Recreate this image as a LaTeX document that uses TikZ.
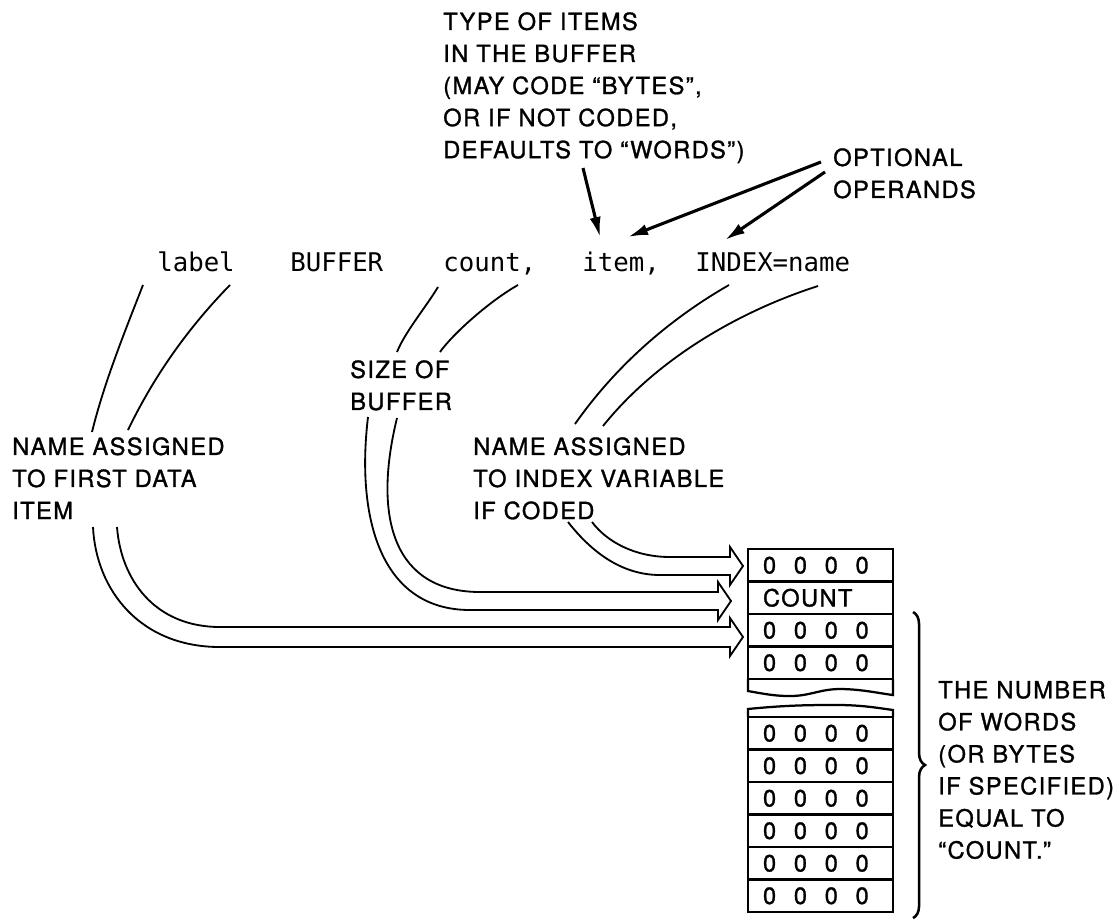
\documentclass[tikz,border=0pt]{standalone}
\usepackage{fontspec}
\usetikzlibrary{arrows.meta, positioning, decorations.pathreplacing, calc}
\newfontfamily\labfont[LetterSpace=6, FakeBold=1.2]{TeX Gyre Heros}
\newfontfamily\stmtfont{DejaVu Sans Mono}
\newcommand{\zeros}{0\kern12.6pt 0\kern12.6pt 0\kern12.6pt 0}

\begin{document}
\begin{tikzpicture}[x=0.025cm, y=-0.025cm,
    txt/.style={inner sep=0pt, align=left, anchor=north west, font=\labfont\fontsize{16.8}{22.8}\selectfont},
    stmt/.style={inner sep=0pt, anchor=base west, font=\stmtfont\fontsize{18.3}{22}\selectfont},
    cell/.style={draw, line width=1.6pt, outer sep=0pt, inner xsep=0.375cm, inner ysep=0pt, text width=2.875cm, minimum height=0.8125cm, align=left, font=\labfont\fontsize{16.8}{19}\selectfont},
    strand/.style={line width=1.3pt},
    pointer/.style={line width=2.2pt, -{Latex[length=5mm, width=2.8mm]}},
    countbrace/.style={line width=1.8pt, decorate, decoration={brace, amplitude=0.3cm}}]
    \useasboundingbox (0,0) rectangle (1117,920);

    % The statement
    \node[stmt] (lblw) at (157,271) {label};
    \node[stmt] (bufw) at (290,271) {BUFFER};
    \node[stmt] (countw) at (443,271) {count,};
    \node[stmt] (itemw) at (582,271) {item,};
    \node[stmt] (idxw) at (695,271) {INDEX=name};

    % Explanations
    \node[txt] (typetxt) at (443,12) {TYPE OF ITEMS\\IN THE BUFFER\\(MAY CODE “BYTES”,\\OR IF NOT CODED,\\DEFAULTS TO “WORDS”)};
    \node[txt] (opttxt) at (833,148) {OPTIONAL\\OPERANDS};
    \node[txt] (nametxt) at (12,437) {NAME ASSIGNED\\TO FIRST DATA\\ITEM};
    \node[txt] (sizetxt) at (350,360) {SIZE OF\\BUFFER};
    \node[txt] (idxtxt) at (473,437) {NAME ASSIGNED\\TO INDEX VARIABLE\\IF CODED};

    \draw[pointer] ([shift={(140,156)}]typetxt.north west) -- ([shift={(18,-34)}]itemw.base west);
    \draw[pointer] ([shift={(-12,14)}]opttxt.north west) -- ([shift={(46,-34)}]itemw.base west);
    \draw[pointer] ([shift={(-8,24)}]opttxt.north west) -- ([shift={(30,-31)}]idxw.base west);

    % The buffer in memory
    \node[cell, anchor=north west] (cell1) at (748,549) {\zeros};
    \node[cell, below=0pt of cell1] (cell2) {COUNT};
    \node[cell, below=0pt of cell2] (cell3) {\zeros};
    \node[cell, below=0pt of cell3] (cell4) {\zeros};
    \node[cell, anchor=north west] (cell5) at (748,717) {\zeros};
    \foreach \i [remember=\i as \prev (initially 5)] in {6,...,10}
        \node[cell, below=0pt of cell\prev] (cell\i) {\zeros};

    % Torn edges
    \draw[line width=1.6pt] (cell4.south west) -- ++(0,12) .. controls +(17,3) and +(-15,0) .. ++(42,5) .. controls +(20,0) and +(-20,0) .. ++(50,-7) .. controls +(20,0) and +(-15,-2) .. ++(53,6) -- (cell4.south east);
    \draw[line width=1.6pt] (cell5.north west) -- ++(0,-8) .. controls +(40,-4) and +(-25,0) .. ++(89,-4) .. controls +(25,0) and +(-15,-2) .. ++(56,5) -- (cell5.north east);

    \draw[countbrace] ([shift={(20,-2)}]cell3.north east) -- ([shift={(20,6)}]cell10.south east);
    \node[txt, anchor=west] (numtxt) at (938,770) {THE NUMBER\\OF WORDS\\(OR BYTES\\IF SPECIFIED)\\EQUAL TO\\“COUNT.”};

    \coordinate (tipC) at ([shift={(-5,17)}]cell1.north west);
    \coordinate (tipB) at ([shift={(-17,19.5)}]cell2.north west);
    \coordinate (tipA) at ([shift={(-5,23)}]cell3.north west);

    % label -> first data item
    \draw[strand] ([shift={(-14,14)}]lblw.base west) .. controls +(-18,46) and +(12,-49) .. ([shift={(80,-5)}]nametxt.north west);
    \draw[strand] ([shift={(73,14)}]lblw.base west) .. controls +(-42,43) and +(26,-54) .. ([shift={(116,-7)}]nametxt.north west);
    \draw[strand] ([shift={(105,90)}]nametxt.north west) .. controls +(4,53) and +(-65,0) .. ++(103,100)
        -- ([shift={(-13,-10)}]tipA) -- ([shift={(-13,-19)}]tipA) -- (tipA) -- ([shift={(-13,19)}]tipA) -- ([shift={(-13,10)}]tipA)
        -- ++(-510,0) .. controls +(-80,0) and +(3,63) .. ([shift={(81,90)}]nametxt.north west);

    % count -> size of buffer
    \draw[strand] ([shift={(-5,16)}]countw.base west) .. controls +(-12,20) and +(8,-20) .. ([shift={(47,-8)}]sizetxt.north west);
    \draw[strand] ([shift={(75,14)}]countw.base west) .. controls +(-30,17) and +(12,-17) .. ([shift={(90,-8)}]sizetxt.north west);
    \draw[strand] ([shift={(47,58)}]sizetxt.north west) .. controls +(-25,102) and +(-85,0) .. ++(83,174)
        -- ([shift={(-13,-9)}]tipB) -- ([shift={(-13,-19)}]tipB) -- (tipB) -- ([shift={(-13,19)}]tipB) -- ([shift={(-13,9)}]tipB)
        -- ++(-248,0) .. controls +(-90,0) and +(-12,100) .. ([shift={(18,57)}]sizetxt.north west);

    % INDEX=name -> index variable
    \draw[strand] ([shift={(34,14)}]idxw.base west) .. controls +(-61,35) and +(40,-57) .. ([shift={(102,-13)}]idxtxt.north west);
    \draw[strand] ([shift={(123,15)}]idxw.base west) .. controls +(-81,26) and +(53,-66) .. ([shift={(130,-11)}]idxtxt.north west);
    \draw[strand] ([shift={(119,85)}]idxtxt.north west) .. controls +(15,20) and +(-35,0) .. ++(78,35)
        -- ([shift={(-13,-9)}]tipC) -- ([shift={(-13,-19)}]tipC) -- (tipC) -- ([shift={(-13,19)}]tipC) -- ([shift={(-13,9)}]tipC)
        -- ++(-70,0) .. controls +(-40,0) and +(22,28) .. ([shift={(95,85)}]idxtxt.north west);
\end{tikzpicture}
\end{document}
